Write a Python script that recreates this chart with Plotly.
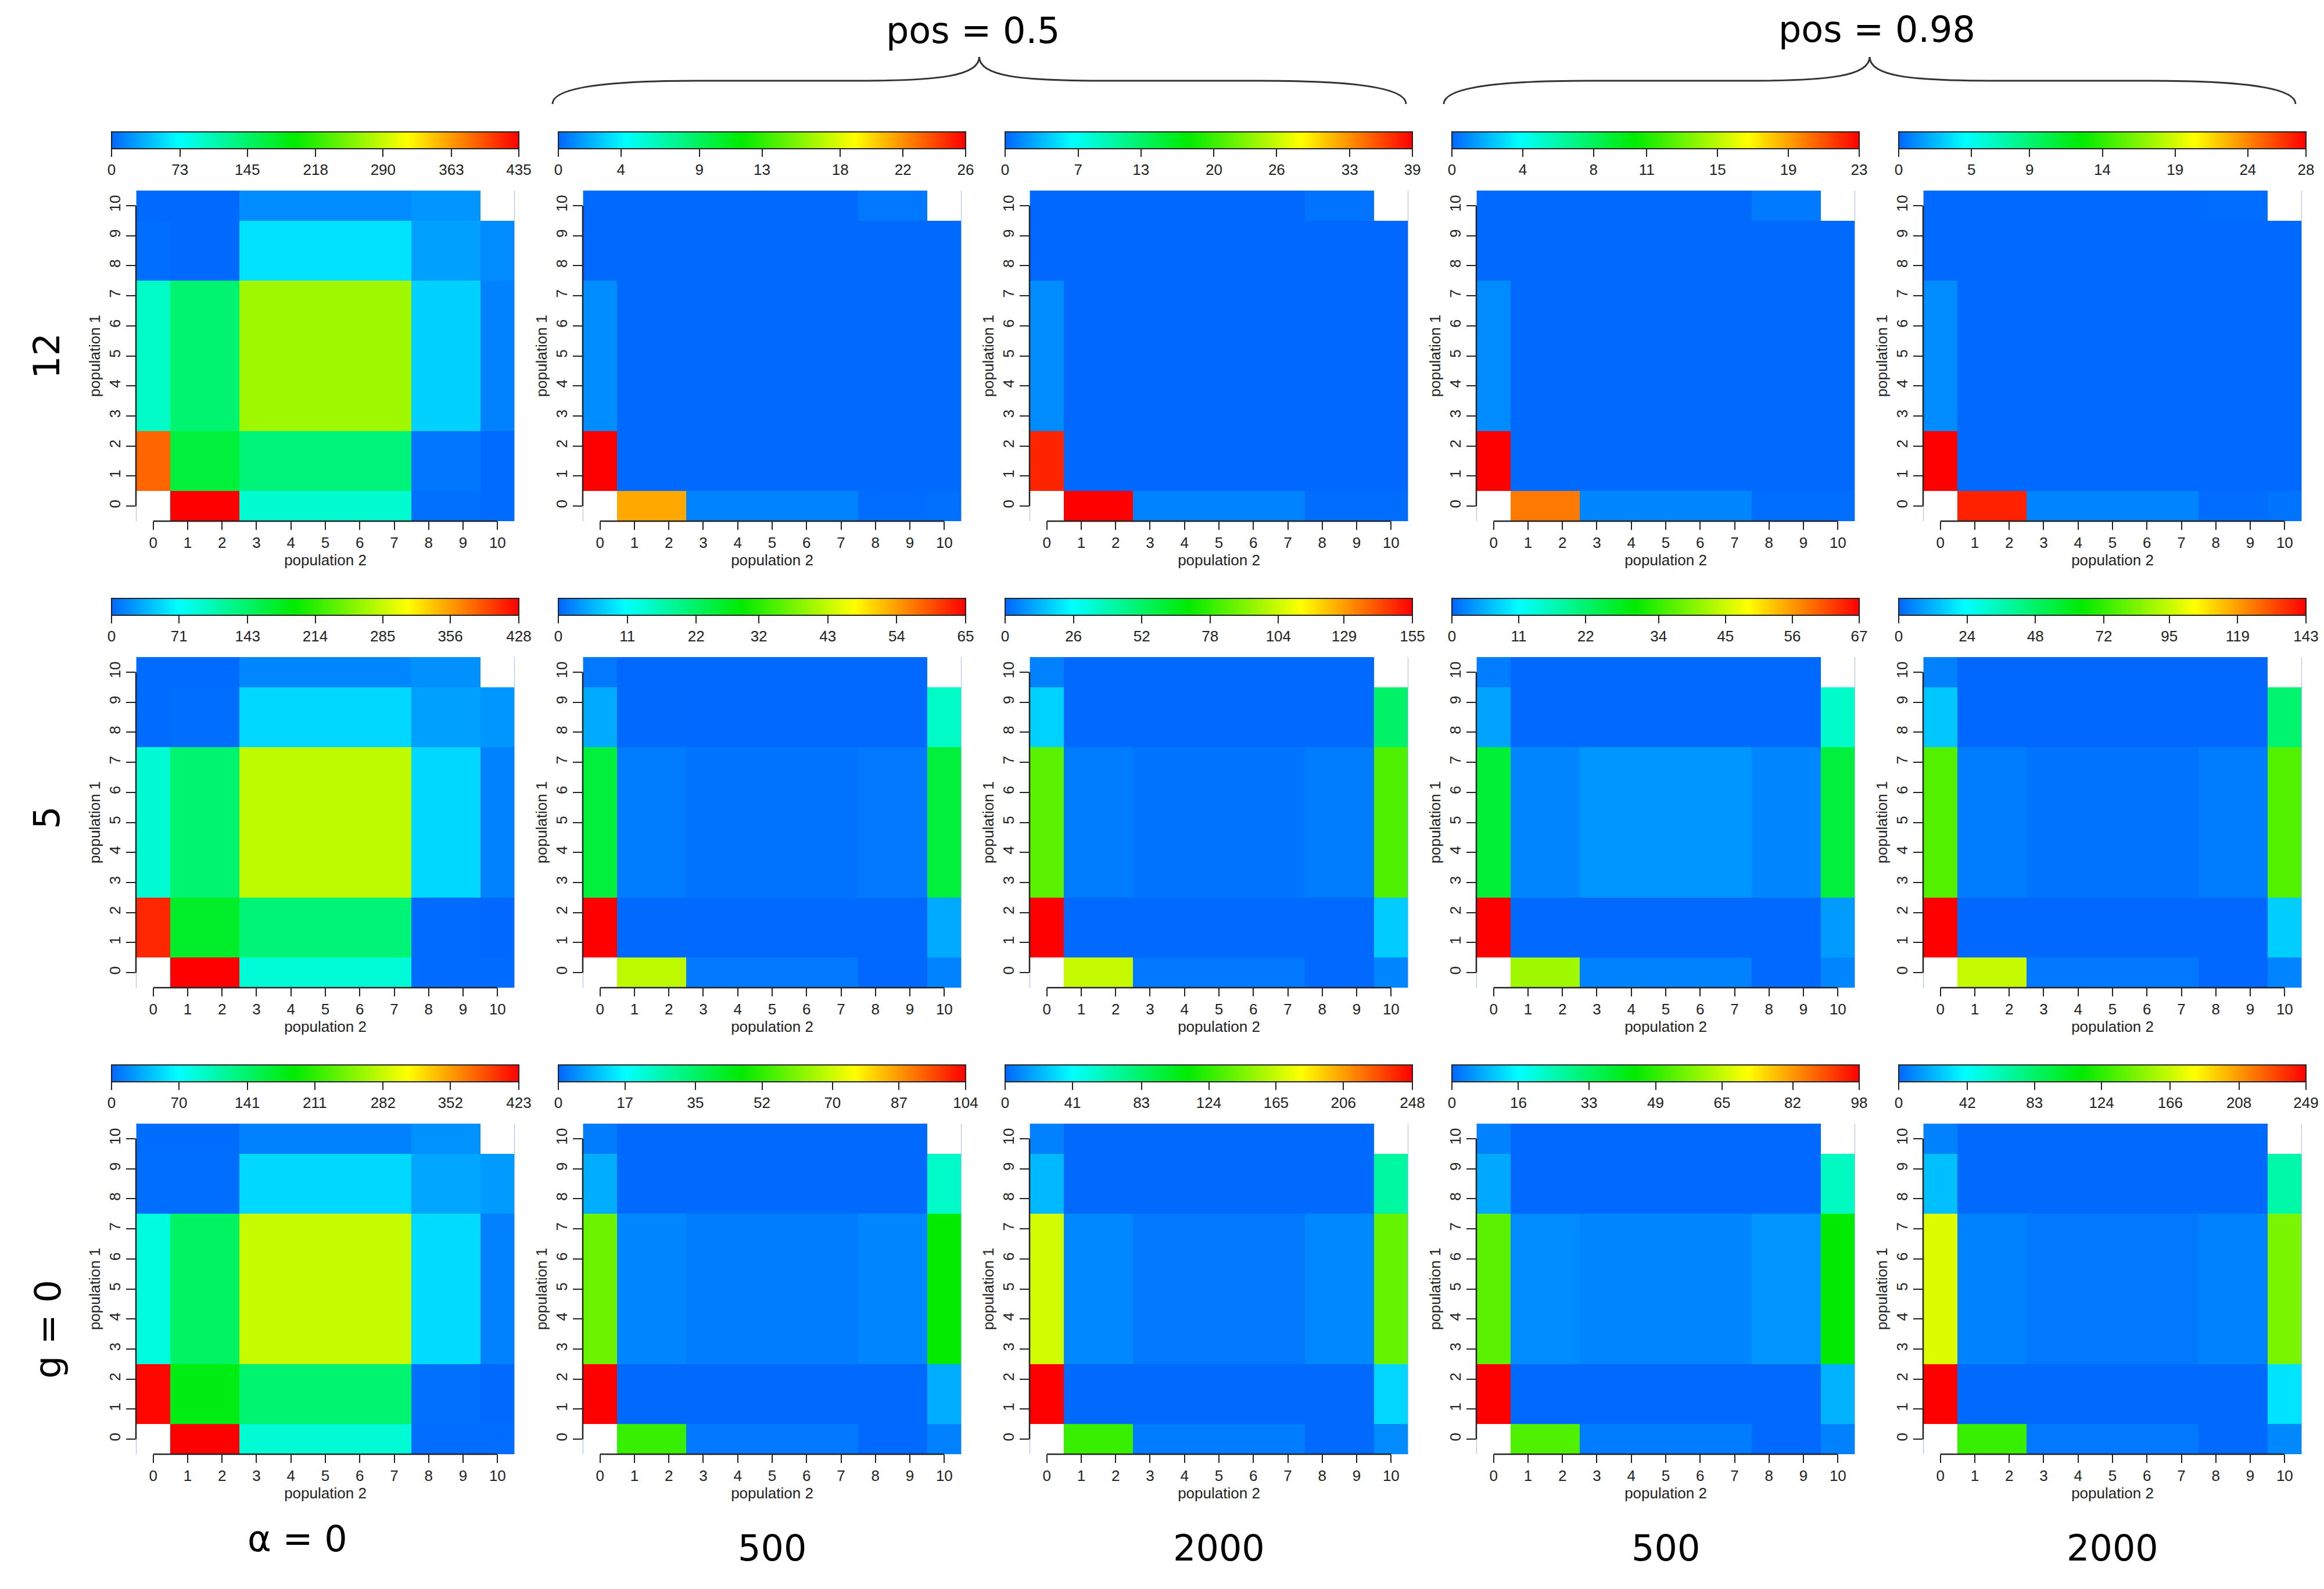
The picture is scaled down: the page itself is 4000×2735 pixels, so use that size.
import plotly.graph_objects as go
from plotly.subplots import make_subplots

W, H = 4000, 2735

# axes: population counts, cells are grouped in blocks 0 | 1-2 | 3-7 | 8-9 | 10
pop_ticks = list(range(11))
bin_edges = [-0.5, 0.5, 2.5, 7.5, 9.5, 10.5]

row_labels = ['12', '5', 'g = 0']
col_labels = ['α = 0', '500', '2000', '500', '2000']
group_labels = ['pos = 0.5', 'pos = 0.98']

# rows of each block matrix = population 1 blocks (bottom to top), columns = population 2 blocks
z_g12_a0 = [[None, 435, 94, 5, 3],
            [388, 167, 137, 8, 3],
            [99, 142, 271, 50, 13],
            [4, 2, 58, 27, 18],
            [2, 2, 18, 22, None]]
z_g12_p05_500 = [[None, 21.3, 0.8, 0.2, 0.3],
                 [26, 0.1, 0.1, 0.1, 0.1],
                 [1.1, 0.1, 0.1, 0.1, 0.1],
                 [0.1, 0.1, 0.1, 0.1, 0.1],
                 [0.1, 0.1, 0.1, 0.5, None]]
z_g12_p05_2000 = [[None, 39, 1.2, 0.3, 0.3],
                  [37.5, 0.1, 0.1, 0.1, 0.1],
                  [1.6, 0.1, 0.1, 0.1, 0.1],
                  [0.1, 0.1, 0.1, 0.1, 0.1],
                  [0.1, 0.1, 0.1, 0.6, None]]
z_g12_p98_500 = [[None, 20, 0.8, 0.2, 0.2],
                 [23, 0.1, 0.1, 0.1, 0.1],
                 [0.95, 0.1, 0.1, 0.1, 0.1],
                 [0.1, 0.1, 0.1, 0.1, 0.1],
                 [0.1, 0.1, 0.1, 0.5, None]]
z_g12_p98_2000 = [[None, 27, 0.9, 0.2, 0.4],
                  [28, 0.1, 0.1, 0.1, 0.1],
                  [1.15, 0.1, 0.1, 0.1, 0.1],
                  [0.1, 0.1, 0.1, 0.1, 0.1],
                  [0.1, 0.1, 0.1, 0.2, None]]

z_g5_a0 = [[None, 428, 90, 3, 3],
           [410, 173, 135, 3, 1],
           [92, 140, 281, 52, 13],
           [3, 4, 52, 27, 22],
           [3, 3, 15, 20, None]]
z_g5_p05_500 = [[None, 42.6, 1.3, 0.1, 2],
                [65, 0.3, 0.2, 0.2, 4.8],
                [25, 1.6, 0.9, 1.3, 25],
                [4.8, 0.3, 0.2, 0.2, 14.8],
                [1.3, 0.2, 0.2, 0.2, None]]
z_g5_p05_2000 = [[None, 103, 3, 0.5, 5.5],
                 [155, 0.5, 0.5, 0.5, 17],
                 [85, 3.8, 2.2, 3.8, 83],
                 [18, 0.5, 0.5, 0.5, 52],
                 [4.7, 0.5, 0.5, 0.5, None]]
z_g5_p98_500 = [[None, 41.8, 2, 0.2, 2.3],
                [67, 0.2, 0.2, 0.2, 3.8],
                [26, 2.3, 3.5, 2.3, 25.6],
                [4.5, 0.2, 0.2, 0.2, 15],
                [1.7, 0.2, 0.2, 0.2, None]]
z_g5_p98_2000 = [[None, 95, 2.7, 0.3, 4.6],
                 [143, 0.3, 0.3, 0.3, 16],
                 [77, 3.5, 2.0, 3.5, 77],
                 [15, 0.3, 0.3, 0.3, 47],
                 [4.3, 0.3, 0.3, 0.3, None]]

z_g0_a0 = [[None, 423, 90, 3, 3],
           [420, 181, 138, 5, 2],
           [85, 145, 282, 54, 13],
           [4, 4, 52, 29, 24],
           [3, 3, 13, 20, None]]
z_g0_p05_500 = [[None, 53, 2, 0.3, 3],
                [104, 0.5, 0.5, 0.5, 8],
                [59, 3.7, 2.6, 3.7, 47],
                [8, 0.5, 0.5, 0.5, 23.6],
                [2.6, 0.5, 0.5, 0.5, None]]
z_g0_p05_2000 = [[None, 127, 6, 1, 10],
                 [248, 1, 1, 1, 30],
                 [168, 9, 5, 9, 139],
                 [22, 1, 1, 1, 67],
                 [7.5, 1, 1, 1, None]]
z_g0_p98_500 = [[None, 52.6, 2.4, 0.3, 3],
                [98, 0.3, 0.3, 0.3, 8],
                [53.7, 4, 3.5, 5, 44],
                [7, 0.3, 0.3, 0.3, 23],
                [3, 0.3, 0.3, 0.3, None]]
z_g0_p98_2000 = [[None, 127, 5, 1, 9],
                 [249, 1, 1, 1, 34],
                 [172, 7.5, 5, 7.5, 145],
                 [24, 1, 1, 1, 65],
                 [7.5, 1, 1, 1, None]]

# colour key tick labels of every panel
cb_g12 = [[0, 73, 145, 218, 290, 363, 435], [0, 4, 9, 13, 18, 22, 26], [0, 7, 13, 20, 26, 33, 39],
          [0, 4, 8, 11, 15, 19, 23], [0, 5, 9, 14, 19, 24, 28]]
cb_g5 = [[0, 71, 143, 214, 285, 356, 428], [0, 11, 22, 32, 43, 54, 65], [0, 26, 52, 78, 104, 129, 155],
         [0, 11, 22, 34, 45, 56, 67], [0, 24, 48, 72, 95, 119, 143]]
cb_g0 = [[0, 70, 141, 211, 282, 352, 423], [0, 17, 35, 52, 70, 87, 104], [0, 41, 83, 124, 165, 206, 248],
         [0, 16, 33, 49, 65, 82, 98], [0, 42, 83, 124, 166, 208, 249]]

panels = [[z_g12_a0, z_g12_p05_500, z_g12_p05_2000, z_g12_p98_500, z_g12_p98_2000],
          [z_g5_a0, z_g5_p05_500, z_g5_p05_2000, z_g5_p98_500, z_g5_p98_2000],
          [z_g0_a0, z_g0_p05_500, z_g0_p05_2000, z_g0_p98_500, z_g0_p98_2000]]
cbars = [cb_g12, cb_g5, cb_g0]

jet = [[0, 'rgb(0,102,255)'], [0.165, 'rgb(0,255,255)'], [0.45, 'rgb(0,235,0)'],
       [0.727, 'rgb(255,255,0)'], [1, 'rgb(255,0,0)']]

TICK_FONT = dict(family='Liberation Sans, Arial, sans-serif', size=26, color='#222')
BIG_FONT = dict(family='DejaVu Sans, sans-serif', size=62, color='black')


def fx(px):
    return px / W


def fy(py):
    return 1 - py / H


def brace_path(left, right, tip_y=90, bar_y=131, end_y=171):
    # curly brace drawn in pixel units, converted to paper coordinates
    mid = (left + right) / 2
    pts = [('M', [(left, end_y)]),
           ('C', [(left, 148), (left + 60, bar_y), (left + 250, bar_y)]),
           ('L', [(mid - 210, bar_y)]),
           ('C', [(mid - 70, bar_y), (mid, 123), (mid, tip_y)]),
           ('C', [(mid, 123), (mid + 70, bar_y), (mid + 210, bar_y)]),
           ('L', [(right - 250, bar_y)]),
           ('C', [(right - 60, bar_y), (right, 148), (right, end_y)])]
    out = ''
    for cmd, xy in pts:
        out += cmd + ' ' + ' '.join(f'{fx(x):.5f},{fy(y):.5f}' for x, y in xy) + ' '
    return out


fig = make_subplots(rows=3, cols=5)

shapes = []
for r in range(3):
    for c in range(5):
        n = r * 5 + c + 1
        sfx = '' if n == 1 else str(n)
        ticks = cbars[r][c]
        x0, x1 = 226 + 769 * c, 878 + 769 * c
        y0, y1 = 320 + 803 * r, 889 + 803 * r

        fig.add_trace(go.Heatmap(
            z=panels[r][c], x=bin_edges, y=bin_edges, zmin=0, zmax=ticks[-1],
            colorscale=jet, hoverongaps=False,
            colorbar=dict(orientation='h', x=fx(534.5 + 769 * c), xanchor='center',
                          y=fy(219 + 803 * r), yanchor='top', len=701, lenmode='pixels',
                          thickness=29, xpad=0, ypad=0, outlinewidth=2, outlinecolor='#222',
                          tickvals=ticks, ticktext=[str(t) for t in ticks],
                          ticks='outside', ticklen=13, tickwidth=2, tickcolor='#222',
                          tickfont=TICK_FONT)),
            row=r + 1, col=c + 1)

        fig.update_xaxes(domain=[fx(x0), fx(x1)], range=[-0.5, 10.5], tickvals=pop_ticks,
                         ticks='outside', ticklen=14, tickwidth=2, tickcolor='#222',
                         showline=False, showgrid=False, zeroline=False, tickfont=TICK_FONT,
                         title=dict(text='population 2', font=TICK_FONT, standoff=0),
                         row=r + 1, col=c + 1)
        fig.update_yaxes(domain=[fy(y1), fy(y0)], range=[-0.5, 10.5], tickvals=pop_ticks,
                         ticks='outside', ticklen=16, tickwidth=2, tickcolor='#222', tickangle=-90,
                         showline=False, showgrid=False, zeroline=False, tickfont=TICK_FONT,
                         title=dict(text='population 1', font=TICK_FONT, standoff=2),
                         row=r + 1, col=c + 1)

        # faint edges of the image, then R style axis lines spanning first to last tick
        for xe in (-0.5, 10.5):
            shapes.append(dict(type='line', xref='x' + sfx, yref=f'y{sfx} domain',
                               x0=xe, x1=xe, y0=0, y1=1, line=dict(color='#9dbfff', width=2)))
        shapes.append(dict(type='line', xref='x' + sfx, yref=f'y{sfx} domain',
                           x0=0, x1=10, y0=0, y1=0, line=dict(color='#222', width=2.5)))
        shapes.append(dict(type='line', xref=f'x{sfx} domain', yref='y' + sfx,
                           x0=0, x1=0, y0=0, y1=10, line=dict(color='#222', width=2.5)))

# braces over the two pos groups
for left, right in [(943, 2412), (2477, 3943)]:
    shapes.append(dict(type='path', xref='paper', yref='paper', path=brace_path(left, right),
                       line=dict(color='#333', width=3)))

annotations = []
for text, (x, y) in zip(group_labels, [(1667, 44), (3222, 43)]):
    annotations.append(dict(text=text, x=fx(x), y=fy(y), xref='paper', yref='paper',
                            showarrow=False, font=BIG_FONT, xanchor='center', yanchor='middle'))
for text, (x, y) in zip(col_labels, [(504, 2640), (1321, 2656), (2090, 2656), (2859, 2656), (3628, 2656)]):
    annotations.append(dict(text=text, x=fx(x), y=fy(y), xref='paper', yref='paper',
                            showarrow=False, font=BIG_FONT, xanchor='center', yanchor='middle'))
for text, (x, y) in zip(row_labels, [(72, 605), (72, 1400), (74, 2280)]):
    annotations.append(dict(text=text, x=fx(x), y=fy(y), xref='paper', yref='paper', textangle=-90,
                            showarrow=False, font=BIG_FONT, xanchor='center', yanchor='middle'))

fig.update_layout(width=W, height=H, margin=dict(l=0, r=0, t=0, b=0),
                  paper_bgcolor='white', plot_bgcolor='white',
                  shapes=shapes, annotations=annotations, showlegend=False)

fig.write_html('out.html')
